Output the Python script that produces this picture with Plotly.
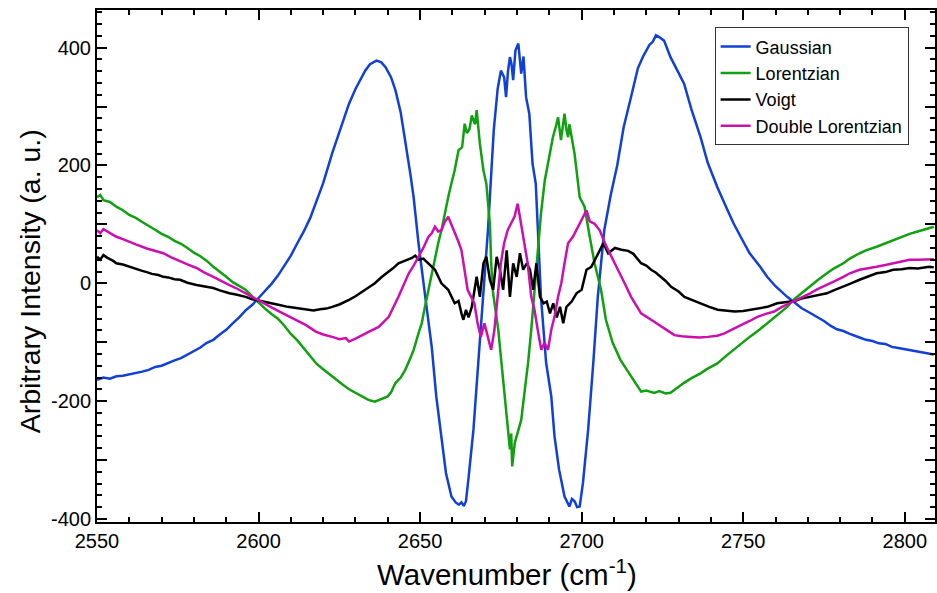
import plotly.graph_objects as go

# ---------------- data ----------------
gauss_x = [2550, 2552, 2554, 2556, 2558, 2560, 2562, 2564, 2566, 2568, 2570, 2572, 2574, 2576, 2578,
           2580, 2582, 2584, 2586, 2588, 2590, 2592, 2594, 2596, 2598, 2600, 2602, 2604, 2606, 2608,
           2610, 2612, 2614, 2616, 2617.7, 2620, 2622.8, 2625, 2628, 2630, 2633, 2634.5, 2636.5,
           2638, 2639.3, 2641, 2642.4, 2644, 2645.4, 2647, 2648, 2649.5, 2651.6, 2653.6, 2655,
           2656.6, 2658, 2659.7, 2661, 2662, 2662.8, 2663.5, 2664.2, 2665, 2666.5, 2668, 2669.6,
           2671, 2672.8, 2674, 2675, 2676, 2676.6, 2677.2, 2677.8, 2678.3, 2678.8, 2679.5, 2680.4,
           2681.3, 2682, 2682.8, 2683.8, 2684.8, 2685.8, 2686.5, 2687.4, 2689, 2690.6, 2691.6,
           2693, 2694.7, 2695.5, 2696.2, 2697, 2697.8, 2698.6, 2699.4, 2700.4, 2702, 2703.6, 2705,
           2707, 2709, 2711, 2713, 2715, 2717.4, 2719, 2721, 2722, 2723, 2724, 2725.5, 2727.5,
           2729.5, 2731.7, 2734, 2736.8, 2739, 2742, 2744.5, 2747, 2749.5, 2752, 2755, 2757.4, 2760,
           2763.6, 2766, 2768, 2770.6, 2773, 2775, 2777, 2779, 2781, 2783, 2786, 2788, 2790, 2792,
           2794, 2796, 2798, 2800, 2802, 2804, 2806, 2809]
gauss_y = [-164, -160, -162, -158, -157, -155, -153, -150, -147, -142, -140, -135, -131, -127, -121,
           -115, -109, -101, -96, -87, -79, -68, -58, -46, -37, -25, -13, -1, 13, 29,
           47, 68, 88, 111, 136, 170, 221, 258, 305, 330, 361, 372, 378,
           375, 367, 350, 327, 290, 243, 185, 146, 68, -23, -108, -192,
           -265, -322, -362, -372, -376, -372, -378, -370, -330, -249, -135, -23,
           90, 260, 330, 361, 350, 316, 360, 384, 372, 345, 395, 407,
           356, 385, 316, 288, 203, 169, 90, -23, -135, -192, -260,
           -316, -362, -372, -379, -366, -370, -380, -379, -339, -249, -135, -23,
           90, 150, 200, 265, 310, 365, 385, 405, 410, 421, 418, 412, 384,
           362, 339, 295, 248, 205, 163, 132, 102, 76, 51, 30, 11, -5,
           -23, -33, -42, -50, -57, -64, -72, -78, -81, -86, -92, -96, -98, -102,
           -103, -108, -110, -112, -114, -116, -118, -121]

lor_x = [2550, 2551, 2552, 2554, 2556, 2558, 2560, 2562, 2564, 2566, 2568, 2570, 2572, 2574, 2576,
         2578, 2580, 2582, 2584, 2586, 2588, 2590, 2592, 2594, 2596, 2598, 2600, 2602, 2604, 2606,
         2608, 2610, 2612, 2614, 2616, 2618, 2620, 2622, 2624, 2626, 2628, 2630, 2632, 2633, 2634,
         2636, 2638, 2640, 2641, 2642.4, 2644, 2645.4, 2647, 2648, 2649.5, 2650.5, 2651.5, 2652.6,
         2653.6, 2654.6, 2655.6, 2656.6, 2657.6, 2658.7, 2659.7, 2660.7, 2661.9, 2663, 2663.8,
         2664.5, 2665.3, 2666, 2666.5, 2667, 2667.5, 2668, 2668.5, 2669.6, 2670.5, 2671.6, 2672,
         2672.6, 2674.2, 2675.2, 2676.2, 2677.3, 2677.8, 2678.2, 2678.5, 2679.3, 2680.4, 2681.3,
         2682.4, 2683.4, 2684.4, 2686, 2687.4, 2688.6, 2689.6, 2691.1, 2692.2, 2692.7, 2693.6,
         2694.7, 2695.3, 2695.8, 2696.2, 2696.7, 2697.8, 2699.4, 2700.9, 2702.5, 2704, 2706,
         2707.5, 2709.6, 2712, 2714, 2715.3, 2717, 2718.4, 2720, 2722.5, 2724, 2726, 2727.5, 2730,
         2731.7, 2734, 2736.8, 2739, 2742, 2745, 2747, 2750, 2752, 2755, 2757.4, 2760.5, 2763.6,
         2765.6, 2768, 2770.7, 2773, 2775.9, 2778, 2781, 2783, 2786, 2788, 2791.3, 2794, 2796.4,
         2799, 2801.5, 2804, 2807.6, 2809]
lor_y = [146, 150, 141, 138, 130, 124, 116, 111, 104, 98, 91, 84, 79, 72, 67,
         60, 52, 46, 38, 28, 20, 11, 2, -4, -11, -22, -33, -43, -52, -60,
         -72, -86, -97, -110, -124, -137, -146, -155, -163, -172, -180, -186, -192, -196, -198,
         -201, -197, -192, -185, -169, -160, -147, -127, -113, -85, -68, -40, -11,
         18, 45, 68, 90, 118, 146, 170, 192, 226, 231, 271,
         255, 262, 285, 277, 270, 294, 260, 237, 192, 169, 101, 34,
         -17, -79, -136, -192, -249, -282, -255, -311, -271, -249, -232,
         -181, -136, -79, 34, 118, 175, 203, 248, 270, 282, 243,
         288, 260, 248, 270, 254, 220, 146, 130, 79, 34, -11,
         -62, -101, -130, -147, -158, -172, -184, -182, -186, -183, -187, -186, -175,
         -169, -161, -153, -145, -136, -122, -113, -100, -91, -79, -68, -54, -40,
         -28, -17, -6, 5, 17, 25, 34, 42, 51, 56, 62, 68, 73,
         78, 84, 88, 94, 96]

voigt_x = [2550, 2551, 2552, 2553, 2555, 2556, 2558, 2560, 2562, 2564, 2565.4, 2567, 2569, 2570.5,
           2572, 2574, 2575.7, 2578, 2580.8, 2583, 2586, 2588, 2591, 2593, 2596, 2598, 2601, 2603,
           2606.5, 2609, 2611.6, 2614.7, 2617, 2619, 2621, 2622.8, 2625, 2628, 2630, 2633, 2636,
           2638.2, 2640, 2641.5, 2643.3, 2645, 2647.5, 2648.5, 2649.5, 2651, 2652.6, 2654.6,
           2656.6, 2658.7, 2660.7, 2661.9, 2662.8, 2663.4, 2664.2, 2665, 2666, 2666.5, 2667.5,
           2668.5, 2669.6, 2670.5, 2671.6, 2672.6, 2673.7, 2674.7, 2675.7, 2676.8, 2677.8, 2678.8,
           2679.9, 2680.9, 2681.9, 2683, 2684, 2685, 2686, 2687.1, 2688.2, 2689.2, 2690.2, 2691.2,
           2692.3, 2693.3, 2694.3, 2695.3, 2696.9, 2698.4, 2700, 2701.5, 2703, 2704.6, 2706.7,
           2708.2, 2710.3, 2712.3, 2714.4, 2716, 2718.4, 2720, 2721.5, 2723, 2724.6, 2726, 2727.7,
           2730, 2731.8, 2734, 2737, 2739.5, 2742.1, 2744.5, 2747.3, 2750, 2752.4, 2755, 2757.5,
           2760.5, 2763.7, 2766, 2768, 2770.7, 2773, 2775.9, 2778, 2781, 2783, 2786, 2788, 2791.3,
           2794, 2796.4, 2799, 2801.5, 2804, 2807.6, 2809]
voigt_y = [45, 40, 48, 44, 38, 34, 32, 28, 25, 21, 19, 16, 14, 11,
           10, 7, 6, 1, -3, -5, -8, -12, -17, -19, -23, -27, -31, -33,
           -37, -40, -42, -45, -46, -44, -43, -40, -36, -28, -22, -11, 0,
           11, 18, 25, 34, 38, 43, 47, 40, 42, 34, 23,
           0, -11, -34, -30, -51, -62, -45, -58, -40, -23, 11,
           -23, 34, 45, 6, -11, 45, 23, -11, 56, -23, 34,
           11, 51, 23, 34, 23, -11, 34, -23, -34, -31, -51, -34,
           -58, -40, -68, -40, -31, -17, -11, 23, 28, 45, 68,
           51, 60, 57, 55, 50, 34, 30, 23, 18, 11, 4, -6,
           -14, -23, -28, -34, -40, -45, -46, -48, -47, -45, -42, -40,
           -34, -31, -30, -26, -23, -20, -17, -12, -6, -1, 6, 10, 17,
           19, 23, 24, 26, 25, 28, 27]

dlor_x = [2550, 2551, 2552, 2553, 2556, 2558, 2560, 2562, 2565.4, 2568, 2570.5, 2573, 2575.7, 2578,
          2580.8, 2583, 2586, 2588, 2591, 2593, 2596, 2598, 2601.4, 2604, 2606.5, 2609, 2611.6,
          2614.7, 2617.7, 2620, 2622.8, 2625, 2627, 2628, 2630, 2633, 2635, 2637.2, 2640.3, 2643.3,
          2645, 2646.5, 2648, 2649.5, 2651, 2652.6, 2653.6, 2654.6, 2655.6, 2656.6, 2657.6, 2658.7,
          2659.7, 2660.7, 2661.9, 2662.8, 2663.8, 2664.7, 2665.8, 2666.8, 2667.8, 2668.8, 2669.9,
          2670.9, 2672, 2673, 2674, 2675, 2676, 2677.1, 2678.1, 2679.2, 2680.2, 2681.2, 2682.3,
          2683.3, 2684.4, 2685.4, 2686.4, 2687.5, 2688.5, 2689.6, 2690.6, 2691.6, 2692.7, 2693.7,
          2694.7, 2695.8, 2697.3, 2698.9, 2700.4, 2701.5, 2702.5, 2704, 2705.6, 2707.2, 2708.7,
          2710.3, 2712, 2713.3, 2715.3, 2717, 2718.4, 2721.5, 2724.6, 2726.5, 2728.7, 2731, 2733.9,
          2736.5, 2739, 2742, 2744.2, 2747, 2749.3, 2752, 2754.4, 2757, 2759.6, 2762, 2765.6, 2768,
          2770.7, 2773, 2775.9, 2778, 2781, 2783, 2786, 2788.5, 2791.3, 2794, 2796.4, 2799, 2801.5,
          2804, 2807.6, 2809]
dlor_y = [90, 85, 92, 89, 79, 75, 70, 66, 59, 55, 51, 44, 37, 32,
          26, 19, 11, 5, -3, -8, -17, -24, -34, -41, -48, -55, -62,
          -71, -82, -87, -91, -95, -93, -99, -94, -85, -80, -74, -57, -23,
          -2, 17, 30, 45, 60, 79, 85, 96, 88, 90, 104, 113,
          100, 84, 70, 56, 23, -11, -23, -34, -68, -91, -68,
          -91, -113, -79, -23, 34, 68, 90, 101, 113, 135, 101, 68,
          34, -23, -45, -79, -113, -101, -113, -79, -57, -23, 0,
          34, 68, 79, 96, 113, 124, 105, 101, 90, 68, 51,
          34, 15, 0, -23, -38, -51, -62, -74, -80, -88, -90, -91,
          -92, -91, -89, -85, -78, -71, -64, -57, -52, -48, -40, -31, -24,
          -17, -10, -3, 3, 11, 17, 23, 25, 28, 31, 34, 37, 40,
          40, 40, 41]

series_names = ["Gaussian", "Lorentzian", "Voigt", "Double Lorentzian"]
series_colors = ["#1040d8", "#10a010", "#000000", "#cc10b0"]

y_tick_vals = [-400, -300, -200, -100, 0, 100, 200, 300, 400]
y_tick_text = ["-400", "", "-200", "", "0", "", "200", "", "400"]
x_tick_vals = [2550, 2600, 2650, 2700, 2750, 2800]
x_tick_text = ["2550", "2600", "2650", "2700", "2750", "2800"]

FONT = "Liberation Sans, Arial, Helvetica, sans-serif"

fig = go.Figure()
data = [(gauss_x, gauss_y), (lor_x, lor_y), (voigt_x, voigt_y), (dlor_x, dlor_y)]
for (xs, ys), name, col in zip(data, series_names, series_colors):
    fig.add_trace(go.Scatter(x=xs, y=ys, mode="lines", name=name,
                             line=dict(color=col, width=2.5)))

axis_common = dict(
    showgrid=False, zeroline=False, showline=True, linecolor="black", linewidth=2,
    mirror="ticks", ticks="inside", ticklen=10, tickwidth=1.5, tickcolor="black",
    tickfont=dict(family=FONT, size=20, color="black"),
)

fig.update_xaxes(range=[2550, 2809.36], tickmode="array", tickvals=x_tick_vals,
                 ticktext=x_tick_text,
                 minor=dict(dtick=10, tick0=2550, ticks="inside", ticklen=5, tickwidth=1.5,
                            tickcolor="black"),
                 **axis_common)
fig.update_yaxes(range=[-405.3, 464], tickmode="array", tickvals=y_tick_vals,
                 ticktext=y_tick_text,
                 minor=dict(dtick=20, tick0=0, ticks="inside", ticklen=5, tickwidth=1.5,
                            tickcolor="black"),
                 **axis_common)

fig.add_annotation(text="Wavenumber (cm<sup>-1</sup>)", xref="paper", yref="paper",
                   x=0.489, y=-0.098, xanchor="center", yanchor="middle", showarrow=False,
                   font=dict(family=FONT, size=29.5, color="black"))
fig.add_annotation(text="Arbitrary Intensity (a. u.)", xref="paper", yref="paper",
                   x=-0.080, y=0.47, xanchor="center", yanchor="middle", showarrow=False,
                   textangle=-90, font=dict(family=FONT, size=28.5, color="black"))

fig.update_layout(
    width=937, height=593,
    margin=dict(l=97, r=0, t=10, b=71),
    plot_bgcolor="white", paper_bgcolor="white",
    font=dict(family=FONT, color="black"),
    legend=dict(x=0.737, y=0.966, xanchor="left", yanchor="top",
                bgcolor="white", bordercolor="#333333", borderwidth=1,
                font=dict(family=FONT, size=18, color="black"),
                tracegroupgap=0, itemwidth=30),
    showlegend=True,
)

fig.write_html("out.html")
